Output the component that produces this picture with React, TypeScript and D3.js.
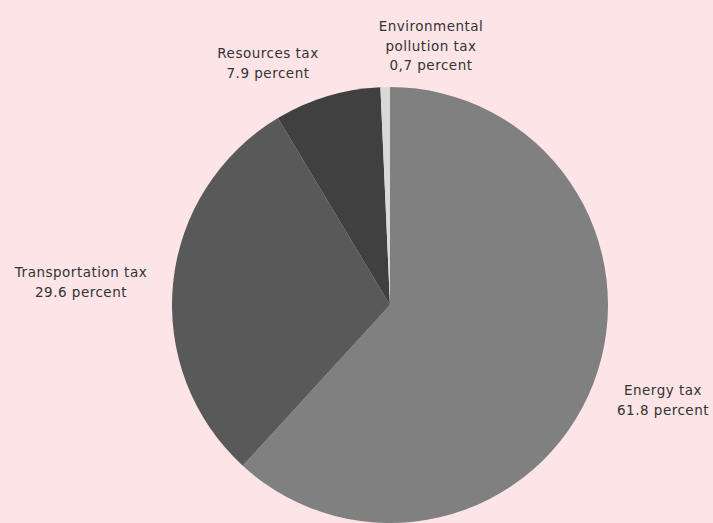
import React from "react";
import * as d3 from "d3";

const categories = ["Energy tax", "Transportation tax", "Resources tax", "Environmental pollution tax"];
const values = [61.8, 29.6, 7.9, 0.7];
const valueLabels = ["61.8 percent", "29.6 percent", "7.9 percent", "0,7 percent"];
const labelLines = [["Energy tax"], ["Transportation tax"], ["Resources tax"], ["Environmental", "pollution tax"]];
const colors = ["#808080", "#595959", "#404040", "#d9d9d9"];
const labelPos = [
  [663, 391],
  [81, 273],
  [268, 54],
  [431, 27],
];

export default function App() {
  const W = 713, H = 523;
  const cx = 390, cy = 305, r = 218;
  const pie = d3.pie<number>().sort(null).value((d) => d);
  const arcs = pie(values);
  const arc = d3.arc<d3.PieArcDatum<number>>().innerRadius(0).outerRadius(r);
  return (
    <svg width={W} height={H} style={{ position: "absolute", left: 0, top: 0, background: "#fde4e6" }}>
      <rect width={W} height={H} fill="#fde4e6" />
      <g transform={`translate(${cx},${cy})`}>
        {arcs.map((a, i) => (
          <path key={i} d={arc(a) || ""} fill={colors[i]} />
        ))}
      </g>
      {categories.map((c, i) => {
        const lines = [...labelLines[i], valueLabels[i]];
        return (
          <text key={c} x={labelPos[i][0]} y={labelPos[i][1]} textAnchor="middle" dominantBaseline="middle"
            fontFamily="'DejaVu Sans', sans-serif" fontSize={13.5} letterSpacing={0.5} fill="#333">
            {lines.map((l, j) => (
              <tspan key={j} x={labelPos[i][0]} dy={j === 0 ? 0 : 19.5}>{l}</tspan>
            ))}
          </text>
        );
      })}
    </svg>
  );
}
